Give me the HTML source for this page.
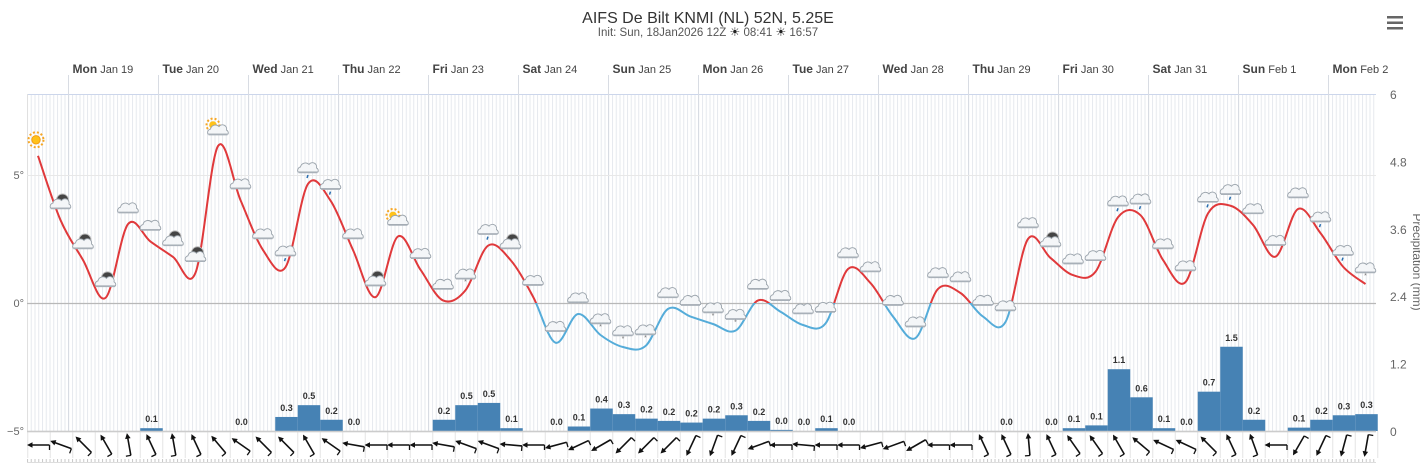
<!DOCTYPE html>
<html><head><meta charset="utf-8">
<style>
html,body{margin:0;padding:0;background:#fff;width:1420px;height:465px;overflow:hidden;font-family:"Liberation Sans",sans-serif;}
svg{display:block}
</style></head>
<body>
<svg id="chart" width="1420" height="465" viewBox="0 0 1420 465" xmlns="http://www.w3.org/2000/svg">
  <defs>
    <pattern id="hours" x="27" y="0" width="3.75" height="10" patternUnits="userSpaceOnUse">
      <line x1="0.5" y1="0" x2="0.5" y2="10" stroke="#e6e9ee" stroke-width="1"/>
    </pattern>
    <pattern id="ticks" x="27" y="0" width="3.75" height="10" patternUnits="userSpaceOnUse">
      <line x1="0.5" y1="0" x2="0.5" y2="10" stroke="#c8c8c8" stroke-width="1"/>
    </pattern>
    <clipPath id="above"><rect x="0" y="0" width="1420" height="303"/></clipPath>
    <clipPath id="below"><rect x="0" y="303" width="1420" height="200"/></clipPath>
  </defs>
  <text x="708" y="23" text-anchor="middle" font-size="16" fill="#333">AIFS De Bilt KNMI (NL) 52N, 5.25E</text>
  <text x="708" y="36" text-anchor="middle" font-size="11.5" fill="#555">Init: Sun, 18Jan2026 12Z <tspan font-size="12" fill="#222">☀︎</tspan> 08:41 <tspan font-size="12" fill="#222">☀︎</tspan> 16:57</text>
  <g transform="translate(1387,16)">
    <rect x="0" y="0" width="16" height="2.5" fill="#666"/><rect x="0" y="5.5" width="16" height="2.5" fill="#666"/><rect x="0" y="11" width="16" height="2.5" fill="#666"/>
  </g>
  <rect x="27" y="94" width="1349" height="337" fill="url(#hours)"/>
  <rect x="27" y="459" width="1349" height="4" fill="url(#ticks)"/>
  <line x1="27" y1="94.5" x2="1376" y2="94.5" stroke="#ccd6eb"/>
  <line x1="27.5" y1="94" x2="27.5" y2="431" stroke="#e0e0e0"/>
  <g id="grid"></g>
  <g id="bars"></g>
  <g id="temp"></g>
  <g id="icons"></g>
  <g id="wind"></g>
  <g id="axes"></g>
</svg>
<script>
const days = ["Mon|Jan 19","Tue|Jan 20","Wed|Jan 21","Thu|Jan 22","Fri|Jan 23","Sat|Jan 24","Sun|Jan 25","Mon|Jan 26","Tue|Jan 27","Wed|Jan 28","Thu|Jan 29","Fri|Jan 30","Sat|Jan 31","Sun|Feb 1","Mon|Feb 2"];
const temps = [5.75,3.24,1.68,0.2,3.08,2.4,1.8,1.18,6.13,4.02,2.07,1.4,4.65,4.0,2.07,0.23,2.6,1.3,0.1,0.5,
 2.24,1.68,0.25,-1.55,-0.43,-1.25,-1.72,-1.68,-0.23,-0.53,-0.82,-1.08,0.1,-0.34,-0.86,-0.8,1.33,0.78,-0.53,-1.37,
 0.55,0.39,-0.53,-0.74,2.5,1.76,1.09,1.22,3.35,3.43,1.68,0.82,3.5,3.8,3.05,1.81,3.67,2.73,1.42,0.74];
const precip = [null,null,null,null,null,0.05,null,null,null,0.0,null,0.25,0.46,0.2,0.0,null,null,null,0.2,0.46,
 0.5,0.05,null,0.0,0.08,0.4,0.3,0.22,0.18,0.15,0.22,0.28,0.18,0.02,0.0,0.05,0.0,null,null,null,
 null,null,null,0.0,null,0.0,0.05,0.1,1.1,0.6,0.05,0.0,0.7,1.5,0.2,null,0.06,0.2,0.28,0.3];
const precipLabels = [null,null,null,null,null,"0.1",null,null,null,"0.0",null,"0.3","0.5","0.2","0.0",null,null,null,"0.2","0.5",
 "0.5","0.1",null,"0.0","0.1","0.4","0.3","0.2","0.2","0.2","0.2","0.3","0.2","0.0","0.0","0.1","0.0",null,null,null,
 null,null,null,"0.0",null,"0.0","0.1","0.1","1.1","0.6","0.1","0.0","0.7","1.5","0.2",null,"0.1","0.2","0.3","0.3"];
const windDir = [180,160,135,120,100,115,100,115,130,145,135,135,120,145,170,180,180,180,170,160,
 160,175,180,195,205,210,225,225,225,245,250,245,200,180,175,180,180,195,200,210,
 180,180,115,115,95,115,125,125,120,140,155,155,135,115,110,180,240,245,255,260];
const iconType = ["sun","moon","moon","moon","cloud","cloud","moon","moon","suncloud","cloud","cloud","rain","rain","rain","cloud","moon","suncloud","cloud","cloud","snow",
 "rain","moon","cloud","cloud","cloud","snow","snow","snow","cloud","cloud","snow","snow","cloud","cloud","cloud","cloud","cloud","cloud","cloud","cloud",
 "cloud","cloud","cloud","cloud","cloud","moon","cloud","cloud","rain","rain","cloud","cloud","rain","rain","cloud","cloud","cloud","rain","rain","snow"];
const tempTicks = [5,0,-5];
const precipTicks = ["0","1.2","2.4","3.6","4.8","6"];

const NS="http://www.w3.org/2000/svg";
function mk(tag,attrs,parent){const e=document.createElementNS(NS,tag);for(const k in attrs)e.setAttribute(k,attrs[k]);parent.appendChild(e);return e;}
const X0=38, STEP=22.5;
const xAt = i => X0 + STEP*i;
const yT = t => 303 - t*25.6;
const yP = p => 431 - p*(337/6);
const dayX = d => 68 + 90*d;

const grid=document.getElementById('grid');
const axes=document.getElementById('axes');
days.forEach((d,k)=>{
  const x=dayX(k)+0.5;
  const l=mk('line',{x1:x,y1:75,x2:x,y2:431,stroke:'#d8dce3','stroke-width':1},grid);
  
  
  const [w,dt]=d.split('|');
  const t=mk('text',{x:x+4,y:73,'font-size':12,fill:'#444'},axes);
  
  
  const ts1=mk('tspan',{'font-weight':'bold'},t); ts1.textContent=w;
  const ts2=mk('tspan',{'font-size':11},t); ts2.textContent=' '+dt;
});
tempTicks.forEach(v=>{
  const y=yT(v)+0.5;
  const l=mk('line',{x1:27,y1:y,x2:1376,y2:y,stroke:v===0?'#b8b8b8':(v===-5?'#ccc':'#e8e8e8'),'stroke-width':v===5?1:1.3},grid);
  
  
  const t=mk('text',{x:24,y:yT(v)+4,'text-anchor':'end','font-size':11,fill:'#666'},axes);
  
  
  t.textContent=(v<0?'−':'')+Math.abs(v)+'°';
});
precipTicks.forEach(s=>{
  const v=parseFloat(s);
  const t=mk('text',{x:1390,y:yP(v)+5,'font-size':12,fill:'#666'},axes);
  
  
  t.textContent=s;
});
const at=mk('text',{x:1413,y:262,'font-size':12,fill:'#666','text-anchor':'middle',transform:'rotate(90 1413 262)'},axes);


at.textContent='Precipitation (mm)';

const bars=document.getElementById('bars');
precip.forEach((p,i)=>{
  if(p===null)return;
  const x=xAt(i)-STEP/2+1;
  if(p>0){
    const r=mk('rect',{x:x,y:yP(p),width:STEP,height:431-yP(p),fill:'#4682b4'},bars);
    
    
  }
  const t=mk('text',{x:xAt(i)+1,y:yP(p)-6,'text-anchor':'middle','font-size':9,'font-weight':'bold',fill:'#333'},bars);
  
  
  t.textContent=precipLabels[i];
});

const pts=temps.map((t,i)=>[xAt(i),yT(t)]);
let d='M'+pts[0][0]+','+pts[0][1];
for(let i=0;i<pts.length-1;i++){
  const p0=pts[Math.max(0,i-1)],p1=pts[i],p2=pts[i+1],p3=pts[Math.min(pts.length-1,i+2)];
  const c1=[p1[0]+(p2[0]-p0[0])/6,p1[1]+(p2[1]-p0[1])/6];
  const c2=[p2[0]-(p3[0]-p1[0])/6,p2[1]-(p3[1]-p1[1])/6];
  d+=` C${c1[0]},${c1[1]} ${c2[0]},${c2[1]} ${p2[0]},${p2[1]}`;
}
const tg=document.getElementById('temp');
const red=mk('path',{d:d,fill:'none',stroke:'#e0393b','stroke-width':2,'clip-path':'url(#above)'},tg);


const blue=mk('path',{d:d,fill:'none',stroke:'#55acd9','stroke-width':2,'clip-path':'url(#below)'},tg);



const ig=document.getElementById('icons');
function cloud(g,cx,cy){
  mk('path',{d:`M${cx-10},${cy+4} a3.5,3.5 0 0 1 2.5,-5 a5,5 0 0 1 8.5,-2.5 a4.2,4.2 0 0 1 7.5,3.5 a3,3 0 0 1 1.5,4 z`,fill:'#f4f6f8',stroke:'#9aa3ab','stroke-width':0.9},g);
  mk('line',{x1:cx-9.5,y1:cy+4.5,x2:cx+9.5,y2:cy+4.5,stroke:'#a8b0b8','stroke-width':1.5},g);
}
iconType.forEach((k,i)=>{
  const cx=xAt(i), cy=yT(temps[i])-16;
  const g=mk('g',{},ig);
  
  
  if(k==='sun'){
    mk('circle',{cx:cx-2,cy:cy,r:7.5,fill:'none',stroke:'#f6a623','stroke-width':2,'stroke-dasharray':'2 2'},g);
    mk('circle',{cx:cx-2,cy:cy,r:4.2,fill:'#ffc21a',stroke:'#f39c12'},g);
    return;
  }
  if(k==='suncloud'){
    mk('circle',{cx:cx-5,cy:cy-5,r:6.5,fill:'none',stroke:'#f6a623','stroke-width':2,'stroke-dasharray':'2 2'},g);
    mk('circle',{cx:cx-5,cy:cy-5,r:3.8,fill:'#ffc21a'},g);
  }
  if(k==='moon'){
    mk('circle',{cx:cx+2,cy:cy-4,r:6,fill:'#444',stroke:'#bbb','stroke-width':1},g);
  }
  cloud(g,cx,cy);
  if(k==='rain'){mk('line',{x1:cx,y1:cy+7,x2:cx-1,y2:cy+10,stroke:'#2a6fb0','stroke-width':1.5},g);}
  if(k==='snow'){mk('text',{x:cx,y:cy+10,'font-size':7,'text-anchor':'middle',fill:'#777'},g).textContent='*';}
});

const wg=document.getElementById('wind');
const bl=mk('line',{x1:27,y1:462.5,x2:1376,y2:462.5,stroke:'#ddd'},wg);


for(let i=0;i<=60;i++){
  const x=xAt(i)-STEP/2+1;
  const l=mk('line',{x1:x,y1:431,x2:x,y2:458,stroke:'#e4e4e4'},wg);
  
  
}
windDir.forEach((a,i)=>{
  const cx=xAt(i)+1, cy=445, r=a*Math.PI/180, L=10.5;
  const dx=Math.cos(r)*L, dy=-Math.sin(r)*L;
  const hx=cx+dx, hy=cy+dy, tx=cx-dx, ty=cy-dy;
  const g=mk('g',{stroke:'#111','stroke-width':1.6,fill:'#111'},wg);
  
  
  const ux=dx/L, uy=dy/L;
  mk('line',{x1:tx,y1:ty,x2:hx-ux*2,y2:hy-uy*2},g);
  mk('polygon',{points:`${hx+ux*1.5},${hy+uy*1.5} ${hx-ux*4-uy*2.8},${hy-uy*4+ux*2.8} ${hx-ux*4+uy*2.8},${hy-uy*4-ux*2.8}`,stroke:'none'},g);
  mk('line',{x1:tx,y1:ty,x2:tx+uy*5,y2:ty-ux*5,'stroke-width':1.3},g);
});
const xa=mk('line',{x1:27,y1:431.5,x2:1376,y2:431.5,stroke:'#ccc','stroke-width':1.5},axes);


</script>
</body></html>
